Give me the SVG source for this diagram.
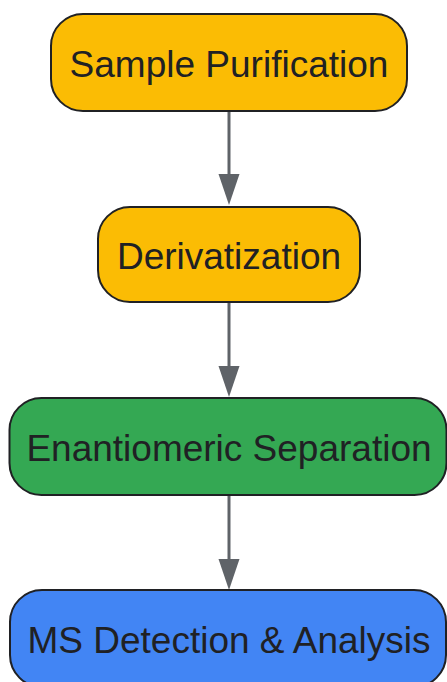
<svg xmlns="http://www.w3.org/2000/svg" width="447" height="682" viewBox="0 0 447 682">
<style>
.node rect{stroke:#202124;stroke-width:2}
.node text{font-family:"Liberation Sans",Arial,sans-serif;font-size:37px;fill:#202124;text-anchor:middle}
.edge{stroke:#5f6368;stroke-width:3;fill:none}
.head{fill:#5f6368}
</style>
<g id="connectors">
<line class="edge" x1="229" y1="111" x2="229" y2="176"/>
<path class="head" d="M218.5,174 L239.5,174 L229,205 Z"/>
<line class="edge" x1="229" y1="302" x2="229" y2="368"/>
<path class="head" d="M218.5,366 L239.5,366 L229,397 Z"/>
<line class="edge" x1="229" y1="495" x2="229" y2="561"/>
<path class="head" d="M218.5,559 L239.5,559 L229,590 Z"/>
</g>
<g id="n1" class="node">
<rect x="51" y="14" width="356" height="97" rx="32" fill="#FBBC04"/>
<text x="229" y="77">Sample Purification</text>
</g>
<g id="n2" class="node">
<rect x="98" y="207" width="262" height="95" rx="32" fill="#FBBC04"/>
<text x="229" y="269">Derivatization</text>
</g>
<g id="n3" class="node">
<rect x="9.5" y="398" width="437" height="97" rx="32" fill="#34A853"/>
<text x="229" y="461">Enantiomeric Separation</text>
</g>
<g id="n4" class="node">
<rect x="10" y="590" width="436" height="97" rx="32" fill="#4285F4"/>
<text x="229" y="653">MS Detection &amp; Analysis</text>
</g>
</svg>
